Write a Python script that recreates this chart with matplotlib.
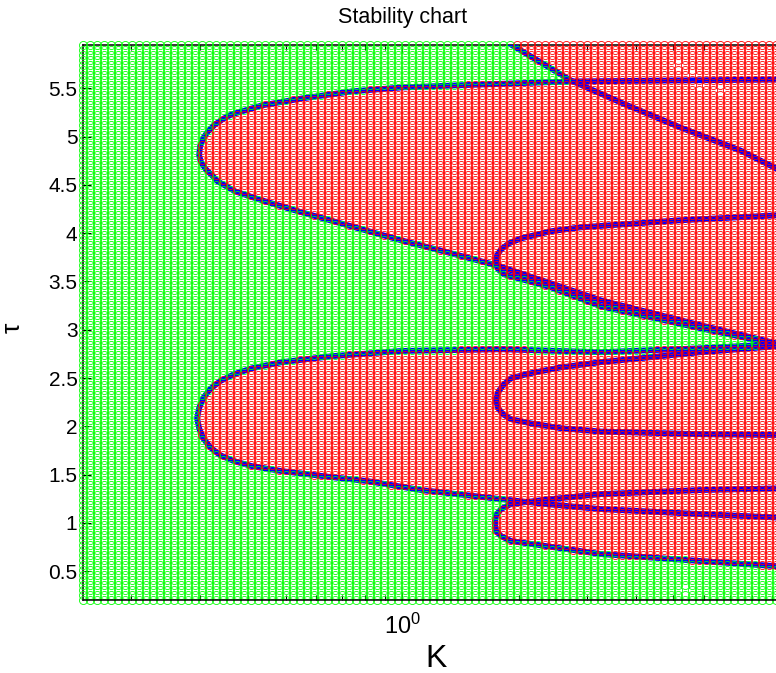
import numpy as np
import matplotlib
matplotlib.use("Agg")
import matplotlib.pyplot as plt
from matplotlib.path import Path

plt.rcParams['font.family'] = ['Liberation Sans', 'DejaVu Sans']
plt.rcParams['mathtext.fontset'] = 'custom'
plt.rcParams['mathtext.rm'] = 'Liberation Sans'
plt.rcParams['mathtext.it'] = 'Liberation Sans:italic'

# Sampling grid of the (K, tau) plane
K_MIN, K_MAX, N_K = 0.15, 10.0, 102
TAU_MIN, TAU_MAX, N_TAU = 0.2, 5.95, 112

# Stability boundaries: each lobe has an upper and a lower branch,
# both starting at the lobe's nose and running toward large K.
lobeA_upper = [(0.2990, 4.806), (0.3007, 4.900), (0.3061, 4.983), (0.3151, 5.055),
               (0.3286, 5.127), (0.3466, 5.190), (0.363, 5.231), (0.434, 5.324),
               (0.550, 5.396), (0.739, 5.469), (0.994, 5.510), (1.597, 5.541),
               (2.719, 5.572), (5.21, 5.583), (10.0, 5.593)]
lobeA_lower = [(0.2990, 4.806), (0.3025, 4.734), (0.3114, 4.661), (0.3228, 4.599),
               (0.333, 4.540), (0.370, 4.434), (0.434, 4.341), (0.528, 4.237),
               (0.739, 4.071), (0.994, 3.926), (1.336, 3.792), (1.744, 3.668),
               (2.415, 3.481), (3.248, 3.305), (5.87, 3.047), (9.2, 2.860),
               (10.0, 2.829)]

lobeB_upper = [(1.744, 3.699), (1.755, 3.771), (1.797, 3.833), (1.884, 3.895),
               (2.023, 3.946), (2.415, 4.020), (2.885, 4.061), (5.21, 4.134),
               (9.2, 4.185), (10.0, 4.196)]
lobeB_lower = [(1.744, 3.699), (1.766, 3.626), (1.829, 3.574), (2.415, 3.440),
               (3.248, 3.243), (5.87, 3.016), (9.2, 2.850), (10.0, 2.819)]

lobeC_upper = [(0.2954, 2.084), (0.2990, 2.187), (0.3061, 2.291), (0.3190, 2.384),
               (0.3385, 2.467), (0.3678, 2.539), (0.4091, 2.601), (0.489, 2.664),
               (0.657, 2.726), (0.994, 2.780), (1.797, 2.798), (3.248, 2.767),
               (5.87, 2.808), (9.2, 2.850), (10.0, 2.850)]
lobeC_lower = [(0.2954, 2.084), (0.2990, 1.980), (0.3061, 1.877), (0.3190, 1.784),
               (0.3385, 1.701), (0.3678, 1.639), (0.4091, 1.587), (0.489, 1.535),
               (0.657, 1.473), (0.813, 1.432), (1.119, 1.339), (1.797, 1.245),
               (2.345, 1.194), (3.248, 1.142), (5.87, 1.090), (10.0, 1.049)]

lobeD_upper = [(1.744, 2.270), (1.766, 2.353), (1.818, 2.425), (1.906, 2.498),
               (2.146, 2.550), (2.562, 2.610), (3.248, 2.664), (5.87, 2.767),
               (9.2, 2.829), (10.0, 2.840)]
lobeD_lower = [(1.744, 2.270), (1.766, 2.187), (1.818, 2.125), (1.906, 2.073),
               (2.146, 2.030), (2.562, 1.980), (3.248, 1.945), (5.87, 1.918),
               (10.0, 1.908)]

lobeE_upper = [(1.734, 0.997), (1.744, 1.080), (1.797, 1.142), (1.906, 1.194),
               (2.345, 1.240), (3.248, 1.297), (5.87, 1.339), (10.0, 1.359)]
lobeE_lower = [(1.734, 0.997), (1.744, 0.914), (1.797, 0.862), (1.906, 0.811),
               (2.345, 0.759), (3.248, 0.676), (4.214, 0.645), (5.87, 0.604),
               (10.0, 0.541)]

# Boundary entering from the top edge; everything to its right is unstable
top_curve = [(1.504, 6.20), (1.906, 5.955), (2.277, 5.769), (2.719, 5.583),
             (3.656, 5.355), (5.21, 5.096), (7.44, 4.858), (9.2, 4.672),
             (10.0, 4.61)]

# Grid nodes with no computed result
missing = [(5.15, 5.738), (5.63, 5.635), (5.94, 5.510), (6.49, 5.469),
           (5.44, 0.324)]

lobes = [(lobeA_upper, lobeA_lower), (lobeB_upper, lobeB_lower),
         (lobeC_upper, lobeC_lower), (lobeD_upper, lobeD_lower),
         (lobeE_upper, lobeE_lower)]


def to_plane(pts):
    a = np.asarray(pts, float)
    return np.column_stack([np.log10(a[:, 0]), a[:, 1]])


def lobe_path(upper, lower):
    up = to_plane(upper)
    lo = to_plane(lower)
    far = np.log10(30.0)
    verts = np.vstack([up, [[far, up[-1, 1]], [far, lo[-1, 1]]], lo[::-1][:-1]])
    return Path(verts)


def top_path(curve):
    c = to_plane(curve)
    far = np.log10(30.0)
    verts = np.vstack([c, [[far, c[-1, 1]], [far, 8.0], [c[0, 0], 8.0]]])
    return Path(verts)


Kg = np.logspace(np.log10(K_MIN), np.log10(K_MAX), N_K)
Tg = np.linspace(TAU_MIN, TAU_MAX, N_TAU)
KK, TT = np.meshgrid(Kg, Tg)
pts = np.column_stack([np.log10(KK.ravel()), TT.ravel()])

unstable = np.zeros(len(pts), bool)
for up, lo in lobes:
    unstable |= lobe_path(up, lo).contains_points(pts)
unstable |= top_path(top_curve).contains_points(pts)

keep = np.ones(len(pts), bool)
for km, tm in missing:
    d = (pts[:, 0] - np.log10(km)) ** 2 * 4.0 + (pts[:, 1] - tm) ** 2
    keep[np.argmin(d)] = False

W, H = 776, 673
fig = plt.figure(figsize=(W / 100, H / 100), dpi=100)
ax = fig.add_axes([83 / W, (H - 600) / H, (790 - 83) / W, (600 - 45) / H])
ax.set_xscale('log')
ax.set_xlim(K_MIN, K_MAX)
ax.set_ylim(TAU_MIN, TAU_MAX)

# Blue boundary curves, under the grid markers
for up, lo in lobes:
    line = lo[::-1] + up[1:]
    a = np.asarray(line)
    ax.plot(a[:, 0], a[:, 1], color=(0, 0, 1), lw=4.2, zorder=2.8,
            solid_joinstyle='round')
a = np.asarray(top_curve)
ax.plot(a[:, 0], a[:, 1], color=(0, 0, 1), lw=4.2, zorder=2.8)

Kf, Tf = KK.ravel(), TT.ravel()
mk = dict(ls='none', marker='o', mfc='none', ms=5.8, mew=0.6, clip_on=False,
          zorder=3, antialiased=False)
s = keep & ~unstable
ax.plot(Kf[s], Tf[s], mec=(0, 1, 0), **mk)
u = keep & unstable
ax.plot(Kf[u], Tf[u], mec=(1, 0, 0), **mk)

for side in ['top', 'left', 'right']:
    ax.spines[side].set_zorder(2.5)
ax.spines['bottom'].set_zorder(4)
for sp in ax.spines.values():
    sp.set_linewidth(1.1)

ax.set_xticks([1.0])
ax.set_xticklabels([r'$10^0$'])
ax.set_yticks(np.arange(0.5, 5.51, 0.5))
ax.set_yticklabels(['0.5', '1', '1.5', '2', '2.5', '3', '3.5', '4', '4.5', '5', '5.5'])
ax.tick_params(which='both', direction='in', top=True, right=True)
ax.tick_params(which='major', length=6, width=0.8)
ax.tick_params(which='minor', length=3.5, width=0.8)
ax.tick_params(axis='y', labelsize=15, pad=4)
ax.tick_params(axis='x', labelsize=17, pad=10)

ax.set_xlabel('K', fontsize=23)
ax.xaxis.set_label_coords(0.5, (600 - 644) / 555)
ax.set_ylabel('τ', fontsize=19)
ax.yaxis.set_label_coords((25 - 83) / 707, 0.49)

fig.text(403 / W, 1 - 18 / H, 'Stability chart', ha='center', va='center', fontsize=15.5)

fig.savefig('out.png', dpi=100)
